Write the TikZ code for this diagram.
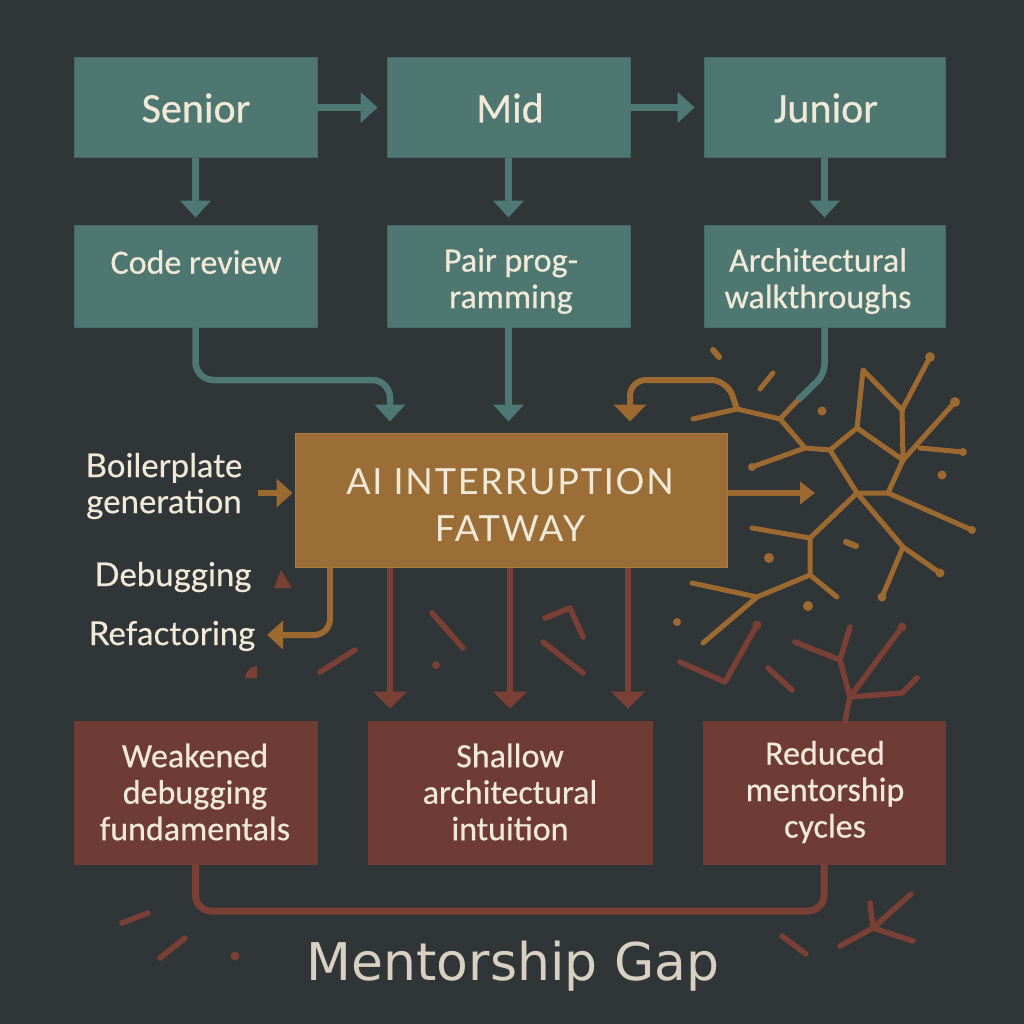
\documentclass[tikz,border=0pt]{standalone}
\usepackage{fontspec}
\setmainfont{Carlito}
\newfontfamily\boxf[FakeBold=0.5]{Carlito}
\newfontfamily\labf[FakeBold=0.4]{Lato}
\newfontfamily\aif[LetterSpace=5]{Lato}
\newfontfamily\titf{DejaVu Sans}
\usetikzlibrary{arrows.meta}
\newcommand\myfs[2]{\fontsize{#1}{#2}\selectfont}
\definecolor{bg}{HTML}{303537}
\definecolor{tealB}{HTML}{4F7772}
\definecolor{tealD}{HTML}{46696A}
\definecolor{tealL}{HTML}{4E7874}
\definecolor{orB}{HTML}{9A6E36}
\definecolor{orD}{HTML}{A97B3C}
\definecolor{orL}{HTML}{9C6A30}
\definecolor{redB}{HTML}{6E3C34}
\definecolor{redL}{HTML}{7A3F35}
\definecolor{cream}{HTML}{F0E9D7}
\definecolor{titc}{HTML}{D8D1C2}
\tikzset{
 tbox/.style={fill=tealB, draw=tealD, line width=0.8pt, minimum width=243pt, minimum height=100pt, inner sep=0pt},
 abox/.style={fill=orB, draw=orD, line width=1pt, minimum width=432pt, minimum height=134pt, inner sep=0pt},
 rbox/.style={fill=redB, draw=redB, line width=0.8pt, minimum width=243pt, minimum height=143pt, inner sep=0pt},
 btxt/.style={text=cream, font=\boxf\myfs{34}{36.5}, align=center, inner sep=0pt},
 htxt/.style={text=cream, font=\boxf\myfs{42}{42}, align=center, inner sep=0pt},
 ltxt/.style={text=cream, font=\labf\myfs{33}{36}, align=center, inner sep=0pt},
 atxt/.style={text=cream, font=\aif\myfs{36}{47}, align=center, inner sep=0pt},
 tarrow/.style={draw=tealL, line width=6.5pt, -{Triangle[width=30pt,length=17pt]}},
 tline/.style={draw=tealL, line width=6.5pt},
 oarrow/.style={draw=orL, line width=6pt, -{Triangle[width=28pt,length=16pt]}},
 rarrow/.style={draw=redL, line width=6.5pt, -{Triangle[width=33pt,length=17pt]}},
 rline/.style={draw=redL, line width=7pt},
 crackO/.style={draw=orL, fill=orL, line width=5pt, line cap=round, line join=round},
 crackR/.style={draw=redL, fill=redL, line width=5.5pt, line cap=round, line join=round},
}
\begin{document}
\begin{tikzpicture}[x=1pt,y=-1pt]
\fill[bg] (0,0) rectangle (1024,1024);
\useasboundingbox (0,0) rectangle (1024,1024);

% ---------- boxes
\node[tbox] (senior) at (195.5,107.5) {};
\node[tbox] (mid) at (508.5,107.5) {};
\node[tbox, minimum width=241pt] (junior) at (824.5,107.5) {};
\node[tbox, minimum height=102pt] (code) at (195.5,276) {};
\node[tbox, minimum height=102pt] (pair) at (508.5,276) {};
\node[tbox, minimum height=102pt, minimum width=241pt] (arch) at (824.5,276) {};
\node[abox] (ai) at (511,500) {};
\node[rbox] (weak) at (195.5,792.5) {};
\node[rbox, minimum width=284pt] (shallow) at (510,792.5) {};
\node[rbox, minimum width=242pt] (reduced) at (824,792.5) {};

% ---------- box texts
\node[htxt] (seniorT) at (196,108) {Senior};
\node[htxt] (midT) at (510,108) {Mid};
\node[htxt] (juniorT) at (826,108) {Junior};
\node[btxt] (codeT) at (196,262) {Code review};
\node[btxt] (pairT) at (511,281) {Pair prog-\\ramming};
\node[btxt] (archT) at (818,281) {Architectural\\walkthroughs};
\node[atxt] (aiT) at (510,505) {AI INTERRUPTION\\FATWAY};
\node[btxt] (weakT) at (195,792) {Weakened\\debugging\\fundamentals};
\node[btxt] (shallowT) at (510,792) {Shallow\\architectural\\intuition};
\node[btxt] (reducedT) at (825,792) {Reduced\\mentorship\\cycles};

% ---------- side labels
\node[ltxt] (boil) at (164,486) {Boilerplate\\generation};
\node[ltxt] (debug) at (173,577) {Debugging};
\node[ltxt] (refac) at (172,636) {Refactoring};
\node[text=titc, font=\titf\myfs{52}{60}, inner sep=0pt] (gap) at (513,966) {Mentorship Gap};

% ---------- orange crack network
\begin{scope}[crackO]
\draw (693,419) -- (737,409) -- (780,419) -- (805,448) -- (752,467);
\draw (798,400) -- (780,419);
\draw (805,448) -- (830,450) -- (857,428) -- (863,370) -- (902,410) -- (930,357);
\draw (902,410) -- (903,460);
\draw (857,428) -- (903,460) -- (955,402);
\draw (920,448) -- (963,452);
\draw (830,450) -- (857,493) -- (888,493) -- (903,460);
\draw (888,493) -- (972,530);
\draw (857,493) -- (903,547) -- (940,573);
\draw (903,547) -- (882,597);
\draw (857,493) -- (810,538) -- (752,528);
\draw (810,538) -- (810,575) -- (837,597);
\draw (810,575) -- (757,597) -- (692,583);
\draw (757,597) -- (703,643);
\draw[line width=6pt] (713,350) -- (719,357);
\draw (773,373) -- (760,389);
\draw[line width=6pt] (846,542) -- (856,546);
\fill (930,357) circle[radius=5pt];
\fill (955,402) circle[radius=5pt];
\fill (963,452) circle[radius=4pt];
\fill (972,530) circle[radius=4pt];
\fill (940,573) circle[radius=4.5pt];
\fill (882,597) circle[radius=4.5pt];
\fill (752,467) circle[radius=4pt];
\fill (822,411) circle[radius=4.5pt];
\fill (942,475) circle[radius=4.5pt];
\fill (769,558) circle[radius=5pt];
\fill (808,606) circle[radius=5pt];
\fill (677,622) circle[radius=4pt];
\end{scope}

% ---------- red cracks and debris
\begin{scope}[crackR]
\draw (757,625) -- (725,682) -- (680,662);
\draw (768,668) -- (792,690);
\draw (845,721) -- (850,697) -- (840,660) -- (795,642);
\draw (840,660) -- (850,627);
\draw (850,697) -- (902,627);
\draw (850,697) -- (902,693) -- (917,678);
\fill (757,625) circle[radius=4.5pt];
\fill (902,627) circle[radius=4.5pt];
\fill (281,570) -- (274,588) -- (292,588) -- cycle;
\fill[line width=0pt, draw=none] (245,678) .. controls (246,670) and (251,667) .. (257,666) -- (257,678) -- cycle;
\draw (320,672) -- (355,650);
\draw (432,613) -- (463,648);
\fill (436,665) circle[radius=4pt];
\draw (545,618) -- (570,608) -- (583,637);
\draw (543,642) -- (583,673);
\draw (122,923) -- (148,913);
\draw (160,958) -- (185,938);
\fill (235,956) circle[radius=4.5pt];
\draw (782,936) -- (806,954);
\draw (873,928) -- (870,903);
\draw (873,928) -- (911,894);
\draw (873,928) -- (913,941);
\draw (873,928) -- (840,946);
\end{scope}

% ---------- teal connectors
\draw[tarrow, shorten >=9pt] (senior.east) -- (mid.west);
\draw[tarrow, shorten >=9pt] (mid.east) -- (junior.west);
\draw[tarrow, shorten >=7pt] (senior.south) -- (code.north);
\draw[tarrow, shorten >=7pt] (mid.south -| pair.north) -- (pair.north);
\draw[tarrow, shorten >=7pt] (junior.south) -- (arch.north);
\coordinate (c1) at (390,380);
\draw[tarrow, rounded corners=18pt, shorten >=11pt] (code.south) |- (c1) -- (c1 |- ai.north);
\draw[tarrow, shorten >=11pt] (pair.south) -- (pair.south |- ai.north);
\coordinate (c2) at (798,400);
\draw[tline, rounded corners=10pt] (arch.south) -- ++(0,47) -- (c2);

% ---------- orange connectors
\coordinate (o0) at (737,409);
\coordinate (o1) at (630,380);
\draw[oarrow, rounded corners=16pt, shorten >=11pt, -{Triangle[width=32pt,length=17pt]}] (o0) -- (727,380) -- (o1) -- (o1 |- ai.north);
\coordinate (bp) at (258,493);
\draw[oarrow, shorten >=2pt] (bp) -- (bp -| ai.west);
\coordinate (ro) at (815,493);
\draw[oarrow, -{Triangle[width=22pt,length=15pt]}] (ro -| ai.east) -- (ro);
\coordinate (rfx) at (330,600);
\coordinate (rf) at (267,635);
\draw[oarrow, rounded corners=16pt] (rfx |- ai.south) |- (rf);

% ---------- red connectors
\coordinate (r1) at (390,600);
\coordinate (r2) at (510,600);
\coordinate (r3) at (628,600);
\draw[rarrow, shorten >=12pt] (r1 |- ai.south) -- (r1 |- shallow.north);
\draw[rarrow, shorten >=12pt] (r2 |- ai.south) -- (r2 |- shallow.north);
\draw[rarrow, shorten >=12pt] (r3 |- ai.south) -- (r3 |- shallow.north);
\coordinate (gy) at (500,911);
\draw[rline, rounded corners=16pt] (weak.south) -- (weak.south |- gy) -- (gy -| reduced.south) -- (reduced.south);
\end{tikzpicture}
\end{document}
